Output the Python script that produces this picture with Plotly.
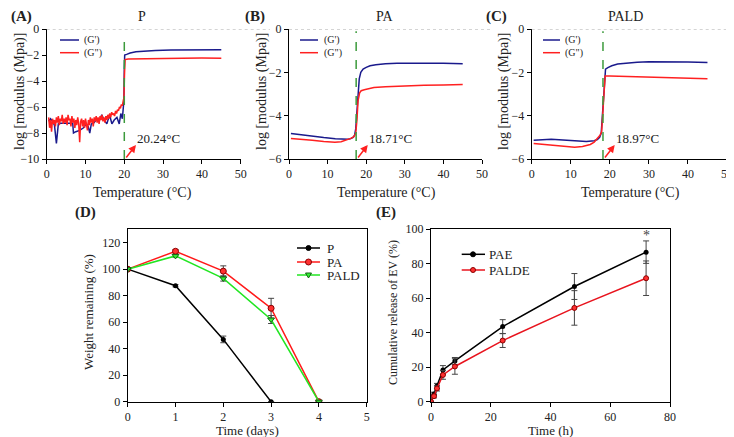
import plotly.graph_objects as go

# ---- (A) P : rheology ----
p_t_g1 = [0.5, 1.0, 1.5, 2.0, 2.5, 3.0, 3.5, 4.0, 5.0, 6.0, 6.7, 6.9, 7.5, 8.5, 9.5, 10.2, 10.7,
          11.1, 11.5, 12.2, 13.0, 13.6, 14.2, 14.8, 15.5, 16.2, 16.8, 17.4, 18.1, 18.7, 19.1, 19.5,
          19.9, 20.0, 20.1, 20.6, 21.5, 23, 25, 28, 32, 38, 45]
p_g1 = [-7.1, -6.9, -7.1, -7.4, -8.8, -7.3, -7.25, -7.25, -7.25, -7.25, -7.25, -8.0, -7.9, -7.8,
        -7.6, -7.3, -7.5, -8.0, -7.3, -7.2, -6.9, -7.0, -6.6, -7.0, -7.3, -6.6, -7.3, -7.0, -6.8,
        -7.3, -6.5, -6.9, -5.5, -3.0, -2.0, -1.95, -1.85, -1.75, -1.7, -1.65, -1.62, -1.6, -1.6]
p_t_g2 = [0.5, 0.75, 1.0, 1.25, 1.5, 1.75, 2.0, 2.25, 2.5, 2.75, 3.0, 3.25, 3.5, 3.75, 4.0, 4.25,
          4.5, 4.75, 5.0, 5.25, 5.5, 5.75, 6.0, 6.25, 6.5, 6.75, 7.0, 7.25, 7.5, 7.75, 8.0, 8.25,
          8.5, 8.75, 9.0, 9.25, 9.5, 9.75, 10.0, 10.25, 10.5, 10.75, 11.0, 11.25, 11.5, 11.75,
          12.0, 12.25, 12.5, 12.75, 13.0, 13.25, 13.5, 13.75, 14.0, 14.25, 14.5, 14.75, 15.0,
          15.25, 15.5, 15.75, 16.0, 16.25, 16.5, 16.75, 17.0, 17.25, 17.5, 17.75, 18.0, 18.25,
          18.5, 18.75, 19.0, 19.25, 19.5, 19.75, 19.9, 20.05, 20.2, 21, 22, 25, 30, 35, 40, 45]
p_g2 = [-6.8, -7.6, -7.0, -7.9, -6.9, -7.3, -7.0, -7.5, -6.8, -7.2, -6.7, -7.4, -6.9, -7.1, -6.6,
        -7.3, -6.9, -7.2, -6.8, -7.4, -6.6, -7.0, -6.9, -7.5, -6.7, -7.2, -6.9, -7.6, -7.0, -7.4,
        -6.8, -7.3, -8.7, -7.1, -6.9, -7.5, -7.0, -7.6, -6.9, -7.3, -7.8, -7.0, -7.4, -6.8, -7.2,
        -6.9, -7.5, -6.8, -7.1, -6.7, -7.2, -6.8, -7.3, -6.7, -7.0, -6.6, -7.1, -6.8, -7.2, -6.7,
        -7.0, -6.6, -6.9, -6.5, -6.8, -6.4, -6.6, -6.5, -6.7, -6.3, -6.5, -6.2, -6.3, -6.0, -6.1,
        -5.8, -5.9, -5.5, -5.3, -3.5, -2.35, -2.3, -2.3, -2.28, -2.25, -2.25, -2.24, -2.25]

# ---- (B) PA ----
pa_t_g1 = [0.5, 3, 6, 9, 12, 14, 15.3, 16, 16.6, 17.0, 17.3, 17.6, 17.9, 18.2, 18.6, 19.2, 20, 21,
           22.5, 25, 28, 32, 36, 40, 45]
pa_g1 = [-4.82, -4.88, -4.95, -5.01, -5.06, -5.09, -5.09, -5.06, -5.0, -4.9, -4.6, -3.8, -2.9, -2.3,
         -2.0, -1.85, -1.77, -1.7, -1.65, -1.6, -1.58, -1.57, -1.57, -1.58, -1.6]
pa_t_g2 = [0.5, 3, 6, 9, 11.9, 13.5, 15, 16, 16.8, 17.3, 17.6, 17.9, 18.3, 18.7, 19.5, 20.5, 22, 25,
           30, 35, 40, 45]
pa_g2 = [-5.05, -5.08, -5.13, -5.19, -5.23, -5.2, -5.13, -5.05, -4.97, -4.8, -4.2, -3.3, -2.95,
         -2.85, -2.8, -2.75, -2.7, -2.66, -2.62, -2.6, -2.58, -2.56]

# ---- (C) PALD ----
pald_t_g1 = [0.5, 3, 5, 8, 11, 14, 16, 16.8, 17.4, 17.8, 18.1, 18.4, 18.7, 18.9, 19.5, 20.5, 22, 24,
             27, 30, 35, 40, 45]
pald_g1 = [-5.13, -5.1, -5.09, -5.12, -5.16, -5.19, -5.16, -5.1, -5.0, -4.8, -4.0, -3.0, -2.0,
           -1.85, -1.78, -1.7, -1.62, -1.57, -1.53, -1.51, -1.5, -1.52, -1.55]
pald_t_g2 = [0.5, 3, 6, 9, 11, 13, 15, 16, 16.9, 17.5, 17.9, 18.2, 18.5, 18.8, 20, 25, 30, 35, 40, 45]
pald_g2 = [-5.28, -5.33, -5.39, -5.44, -5.46, -5.42, -5.33, -5.22, -5.05, -4.9, -4.74, -4.0, -3.0,
           -2.17, -2.17, -2.19, -2.21, -2.24, -2.27, -2.3]

# ---- (D) weight remaining ----
days = [0, 1, 2, 3, 4]
w_p = [100, 87.5, 47, 0]
w_p_err = [0, 0.8, 2.5, 0]
w_pa = [100, 113.5, 98.5, 70.5, 0]
w_pa_err = [0, 1.2, 4, 7.5, 0]
w_pald = [100, 110, 93, 62, 0]
w_pald_err = [0, 1, 2, 3, 0]

# ---- (E) cumulative EV release ----
hours = [0, 1, 2, 4, 8, 24, 48, 72]
rel_pae = [0, 4.5, 9.1, 18.4, 23.6, 43.5, 66.7, 86.6]
rel_pae_err = [0, 1, 1.5, 2.5, 2, 4, 7.5, 6.5]
rel_palde = [0, 3.2, 7.7, 15.5, 20.4, 35.4, 54.3, 71.5]
rel_palde_err = [0, 1, 1.5, 2.5, 4.5, 4, 10, 10]

# transition temperatures (position of dashed line, label)
trans = [(20.0, '20.24°C'), (17.4, '18.71°C'), (18.25, '18.97°C')]

SERIF = 'Liberation Serif'
BLUE = '#1a1a8c'
RED = '#ff2020'
GREEN = '#22e622'

# page has an 8px body margin: work in page pixels and convert
OFF = 8
W, H = 726, 429
def fx(p):
    return (p - OFF) / W
def fy(p):
    return 1 - (p - OFF) / H
def dom_x(a, b):
    return [fx(a), fx(b)]
def dom_y(top, bottom):
    return [fy(bottom), fy(top)]

fig = go.Figure()

rheo = [(p_t_g1, p_g1, p_t_g2, p_g2), (pa_t_g1, pa_g1, pa_t_g2, pa_g2),
        (pald_t_g1, pald_g1, pald_t_g2, pald_g2)]
for i, (t1, g1, t2, g2) in enumerate(rheo):
    ax = '' if i == 0 else str(i + 1)
    fig.add_trace(go.Scatter(x=t1, y=g1, mode='lines', name="(G')", line=dict(color=BLUE, width=1.5),
                             xaxis='x' + ax, yaxis='y' + ax))
    fig.add_trace(go.Scatter(x=t2, y=g2, mode='lines', name='(G")', line=dict(color=RED, width=1.5),
                             xaxis='x' + ax, yaxis='y' + ax))

# (D)
err_style = dict(type='data', thickness=1, width=3, color='#444')
fig.add_trace(go.Scatter(x=days[:4], y=w_p, name='P', mode='lines+markers',
                         line=dict(color='black', width=1.5),
                         marker=dict(symbol='circle', size=5, color='black'),
                         error_y=dict(array=w_p_err, **err_style), xaxis='x4', yaxis='y4'))
fig.add_trace(go.Scatter(x=days, y=w_pa, name='PA', mode='lines+markers',
                         line=dict(color='#ff1a1a', width=1.5),
                         marker=dict(symbol='circle', size=6, color='#ff3030',
                                     line=dict(color='#8a0000', width=1)),
                         error_y=dict(array=w_pa_err, **err_style), xaxis='x4', yaxis='y4'))
fig.add_trace(go.Scatter(x=days, y=w_pald, name='PALD', mode='lines+markers',
                         line=dict(color=GREEN, width=1.5),
                         marker=dict(symbol='triangle-down', size=6, color='#33ee33',
                                     line=dict(color='#146614', width=1)),
                         error_y=dict(array=w_pald_err, **err_style), xaxis='x4', yaxis='y4'))

# (E)
fig.add_trace(go.Scatter(x=hours, y=rel_pae, name='PAE', mode='lines+markers',
                         line=dict(color='black', width=1.5),
                         marker=dict(symbol='circle', size=5, color='black'),
                         error_y=dict(array=rel_pae_err, **err_style), xaxis='x5', yaxis='y5'))
fig.add_trace(go.Scatter(x=hours, y=rel_palde, name='PALDE', mode='lines+markers',
                         line=dict(color='#e8141e', width=1.5),
                         marker=dict(symbol='circle', size=5, color='#ff3030',
                                     line=dict(color='#8a0000', width=1)),
                         error_y=dict(array=rel_palde_err, **err_style), xaxis='x5', yaxis='y5'))

tick = dict(family=SERIF, size=12, color='#222')
base_ax = dict(showgrid=False, zeroline=False, showline=True, linecolor='black', linewidth=1,
               ticks='outside', ticklen=4, tickcolor='black', tickfont=tick)

top_dom = dom_y(29, 159)
bot_dom = dom_y(229, 401.7)
lay = dict(
    width=W, height=H, margin=dict(l=0, r=0, t=0, b=0, autoexpand=False),
    paper_bgcolor='white', plot_bgcolor='white', showlegend=False,
    font=dict(family=SERIF, color='#222'),
    xaxis=dict(domain=dom_x(46.7, 240.7), range=[0, 50], dtick=10, anchor='y', **base_ax),
    yaxis=dict(domain=top_dom, range=[-10, 0], dtick=2, anchor='x', **base_ax),
    xaxis2=dict(domain=dom_x(289, 482), range=[0, 50], dtick=10, anchor='y2', **base_ax),
    yaxis2=dict(domain=top_dom, range=[-6, 0], dtick=2, anchor='x2', **base_ax),
    xaxis3=dict(domain=dom_x(531.7, 727), range=[0, 50], dtick=10, anchor='y3', **base_ax),
    yaxis3=dict(domain=top_dom, range=[-6, 0], dtick=2, anchor='x3', **base_ax),
    xaxis4=dict(domain=dom_x(127.7, 366.7), range=[0, 5], dtick=1, anchor='y4', mirror=True, **base_ax),
    yaxis4=dict(domain=bot_dom, range=[0, 130.3], tickvals=[0, 20, 40, 60, 80, 100, 120],
                anchor='x4', mirror=True, **base_ax),
    xaxis5=dict(domain=dom_x(431, 670), range=[0, 80], dtick=20, anchor='y5', mirror=True, **base_ax),
    yaxis5=dict(domain=bot_dom, range=[0, 100], dtick=20, anchor='x5', mirror=True, **base_ax),
)
fig.update_layout(**lay)

def text(x, y, s, size, anchor='left', color='#222', angle=0):
    fig.add_annotation(xref='paper', yref='paper', x=fx(x), y=fy(y), text=s, showarrow=False,
                       xanchor=anchor, yanchor='middle', textangle=angle,
                       font=dict(family=SERIF, size=size, color=color))

def hline(x0, x1, y, color, width=1.5):
    fig.add_shape(type='line', xref='paper', yref='paper', x0=fx(x0), x1=fx(x1), y0=fy(y), y1=fy(y),
                  line=dict(color=color, width=width))

# axis titles
for x in [142, 386, 630]:
    text(x, 193, 'Temperature (°C)', 14, anchor='center')
for x in [20, 262, 504]:
    text(x, 92, 'log [modulus (Mpa)]', 14, anchor='center', angle=-90)
text(247, 430, 'Time (days)', 13, anchor='center')
text(550, 430, 'Time (h)', 13, anchor='center')
text(88, 312, 'Weight remaining (%)', 13, anchor='center', angle=-90)
text(393, 313, 'Cumulative release of EV (%)', 12, anchor='center', angle=-90)

# legends of the rheology panels
for lx0, lx1, tx in [(60, 79, 82), (300, 318, 322), (543, 560, 563)]:
    hline(lx0, lx1, 40, BLUE)
    hline(lx0, lx1, 52.7, RED)
    text(tx, 40, "(G')", 10)
    text(tx, 52.7, '(G")', 10)

# legend (D)
def dot(cx, cy, r, fill, edge):
    fig.add_shape(type='circle', xref='paper', yref='paper', x0=fx(cx - r), x1=fx(cx + r),
                  y0=fy(cy + r), y1=fy(cy - r), fillcolor=fill, line=dict(color=edge, width=1))

for y, col, lab in [(248, 'black', 'P'), (262, '#ff1a1a', 'PA'), (275, GREEN, 'PALD')]:
    hline(297, 320, y, col)
    text(325, y, lab, 13)
dot(308.5, 248, 2.5, 'black', 'black')
dot(308.5, 262, 3, '#ff3030', '#8a0000')
tri = 'M {} {} L {} {} L {} {} Z'.format(fx(305.5), fy(273), fx(311.5), fy(273), fx(308.5), fy(278))
fig.add_shape(type='path', xref='paper', yref='paper', path=tri, fillcolor='#33ee33',
              line=dict(color='#146614', width=1))

# legend (E)
for y, col, lab in [(254.3, 'black', 'PAE'), (270, '#e8141e', 'PALDE')]:
    hline(461.7, 485, y, col)
    text(487, y, lab, 13)
dot(473, 254.3, 2.5, 'black', 'black')
dot(473, 270, 2.5, '#ff3030', '#8a0000')

# dotted line at top (y = 0), dashed transition lines and arrows
dot_ends = [(46.7, 270), (289, 490), (531.7, 734)]
for i, ((xa, xb), (tx, lab)) in enumerate(zip(dot_ends, trans)):
    ax = '' if i == 0 else str(i + 1)
    ymin = -10 if i == 0 else -6
    fig.add_shape(type='line', xref='paper', yref='y' + ax, x0=fx(xa), x1=fx(xb), y0=0, y1=0,
                  line=dict(color='#aaaaaa', width=1, dash='dot'))
    fig.add_shape(type='line', xref='x' + ax, yref='y' + ax, x0=tx, x1=tx, y0=ymin,
                  y1=-0.3 if i == 0 else -0.1, line=dict(color='#3c9a3c', width=1.5, dash='dash'))
    span = 10 if i == 0 else 6
    fig.add_annotation(xref='x' + ax, yref='y' + ax, x=tx + 3.0, y=ymin + 0.108 * span,
                       ax=tx + 0.2, ay=ymin, axref='x' + ax, ayref='y' + ax,
                       showarrow=True, arrowhead=2, arrowsize=1, arrowwidth=1.5,
                       arrowcolor='#ff2020', text='')
    fig.add_annotation(xref='x' + ax, yref='y' + ax, x=tx + 2.8, y=ymin + 0.16 * span, text=lab,
                       showarrow=False, xanchor='left', yanchor='middle',
                       font=dict(family=SERIF, size=13, color='#222'))

# sub-plot titles and panel letters (kept inside the drawable area)
for x, y, s in [(142, 16, 'P'), (385, 16, 'PA'), (625, 16, 'PALD')]:
    text(x, y, s, 14, anchor='center')
for x, y, s in [(21, 16, '(A)'), (255, 16, '(B)'), (496, 16, '(C)'),
                (85, 213, '(D)'), (386, 213, '(E)')]:
    text(x, y, '<b>' + s + '</b>', 15, anchor='center')

fig.add_annotation(xref='x5', yref='y5', x=72, y=96.5, text='*', showarrow=False,
                   font=dict(family=SERIF, size=14, color='#444'))

fig.write_html("out.html")
